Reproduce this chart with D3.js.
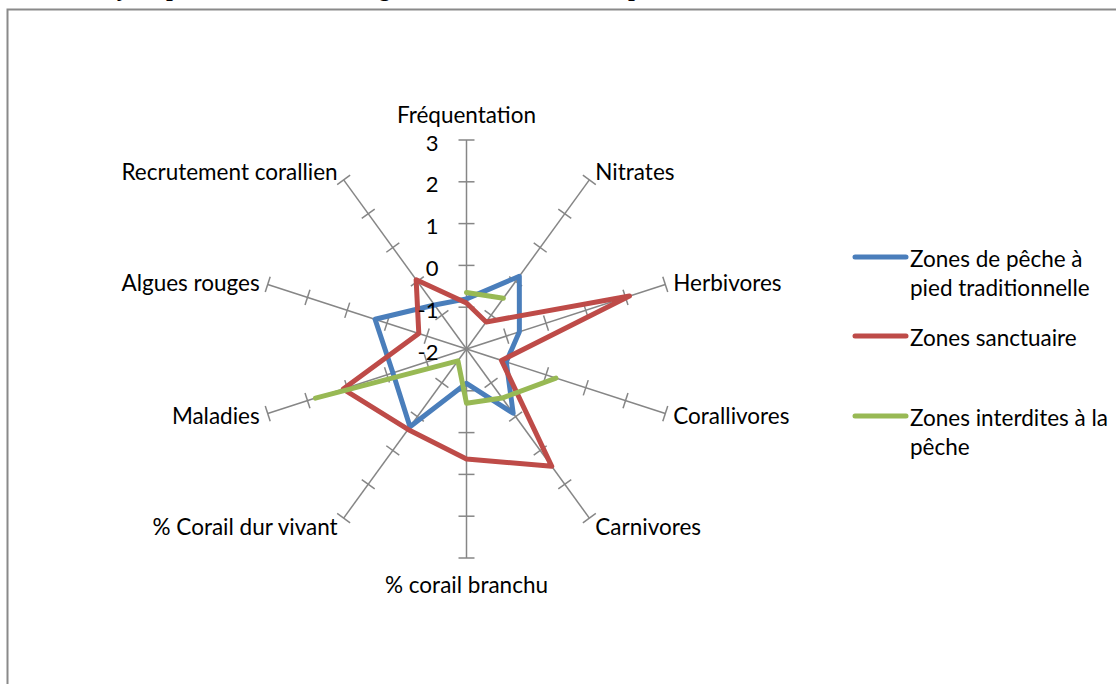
<!DOCTYPE html>
<html><head><meta charset="utf-8">
<script src="https://cdn.jsdelivr.net/npm/d3@7"></script>
<style>
html,body{margin:0;padding:0;background:#fff;}
svg{display:block;}
text{font-family:Lato,"Noto Sans",sans-serif;fill:#000;}
</style></head>
<body>
<svg id="chart" width="1116" height="684"></svg>
<script>
// ---- data ----
const categories = ["Fréquentation","Nitrates","Herbivores","Corallivores","Carnivores",
  "% corail branchu","% Corail dur vivant","Maladies","Algues rouges","Recrutement corallien"];
const tickValues = [-2,-1,0,1,2,3];
const seriesNames = ["Zones de pêche à pied traditionnelle","Zones sanctuaire","Zones interdites à la pêche"];
const pecheTraditionnelle = [-0.8, 0.15, -0.67, -1.0, -0.1, -1.18, 0.3, -0.15, 0.3, -0.7];
const sanctuaire = [-0.9, -1.2, 2.1, -1.12, 1.47, 0.63, 0.38, 1.1, -0.8, 0.05];
const interdites = [-0.65, -0.5, null, 0.25, -0.55, -0.7, -1.65, 1.8, null, null];
const seriesColors = ["#4A7EBB","#BE4B48","#98B954"];
const legendLines = [["Zones de pêche à","pied traditionnelle"],["Zones sanctuaire"],["Zones interdites à la","pêche"]];

const svg = d3.select("#chart");
const cx = 466.5, cy = 349, R = 209;

// frame
svg.append("rect").attr("x",7.5).attr("y",9.5).attr("width",1200).attr("height",800)
  .attr("fill","none").attr("stroke","#8a8a8a").attr("stroke-width",2);

// cut-off title descenders
[["y",125],["p",174],["g",387],["p",636]].forEach(([t,x])=>{
  svg.append("text").attr("x",x).attr("y",-4).attr("text-anchor","middle")
    .style("font-family","'Liberation Serif',serif").style("font-weight","bold").style("font-style","italic")
    .style("font-size","24px").text(t);
});

const r = d3.scaleLinear().domain([-2,3]).range([0,R]);
const angle = d3.scalePoint().domain(d3.range(categories.length+1)).range([0,2*Math.PI]);
const g = svg.append("g").attr("transform",`translate(${cx},${cy})`);

function pt(i,v){const a=angle(i%categories.length);return [Math.sin(a)*r(v),-Math.cos(a)*r(v)];}

// spokes and ticks
categories.forEach((c,i)=>{
  const a = angle(i);
  const [x2,y2] = pt(i,3);
  g.append("line").attr("x1",0).attr("y1",0).attr("x2",x2).attr("y2",y2)
    .attr("stroke","#868686").attr("stroke-width",1.5);
  tickValues.slice(1).forEach(v=>{
    const [px,py]=pt(i,v);
    const nx=Math.cos(a)*8, ny=Math.sin(a)*8;
    g.append("line").attr("x1",px-nx).attr("y1",py-ny).attr("x2",px+nx).attr("y2",py+ny)
      .attr("stroke","#868686").attr("stroke-width",1.5);
  });
});

// series
const line = d3.line().defined(d=>d[2]!==null).x(d=>d[0]).y(d=>d[1]);
[pecheTraditionnelle,sanctuaire,interdites].forEach((vals,s)=>{
  const pts = vals.concat([vals[0]]).map((v,i)=> v===null?[0,0,null]:[...pt(i,v),v]);
  g.append("path").attr("d",line(pts)).attr("fill","none")
    .attr("stroke",seriesColors[s]).attr("stroke-width",5)
    .attr("stroke-linejoin","round").attr("stroke-linecap","round");
});

// category labels
const labelPos = [
  {anchor:"middle",dx:0,dy:-26},{anchor:"start",dx:6,dy:-8},{anchor:"start",dx:8,dy:-2},
  {anchor:"start",dx:8,dy:2},{anchor:"start",dx:6,dy:8},{anchor:"middle",dx:0,dy:26},
  {anchor:"end",dx:-6,dy:8},{anchor:"end",dx:-8,dy:2},{anchor:"end",dx:-8,dy:-2},{anchor:"end",dx:-6,dy:-8}];
categories.forEach((c,i)=>{
  const [x,y]=pt(i,3);
  const lp=labelPos[i];
  g.append("text").attr("x",x+lp.dx).attr("y",y+lp.dy).attr("text-anchor",lp.anchor)
    .attr("dominant-baseline","central").style("font-size","22.5px").text(c);
});

// tick labels on first axis
tickValues.forEach(v=>{
  const [x,y]=pt(0,v);
  g.append("text").attr("x",x-28).attr("y",y+2).attr("text-anchor","end")
    .attr("dominant-baseline","central").style("font-size","22px").text(d3.format("d")(v).replace("−","-"));
});

// legend
const ly = [257,336,416];
legendLines.forEach((lines,s)=>{
  svg.append("line").attr("x1",855).attr("x2",906).attr("y1",ly[s]).attr("y2",ly[s])
    .attr("stroke",seriesColors[s]).attr("stroke-width",5).attr("stroke-linecap","round");
  lines.forEach((t,k)=>{
    svg.append("text").attr("x",910).attr("y",ly[s]+1+k*29).attr("dominant-baseline","central")
      .style("font-size","22.5px").text(t);
  });
});
</script>
</body></html>
